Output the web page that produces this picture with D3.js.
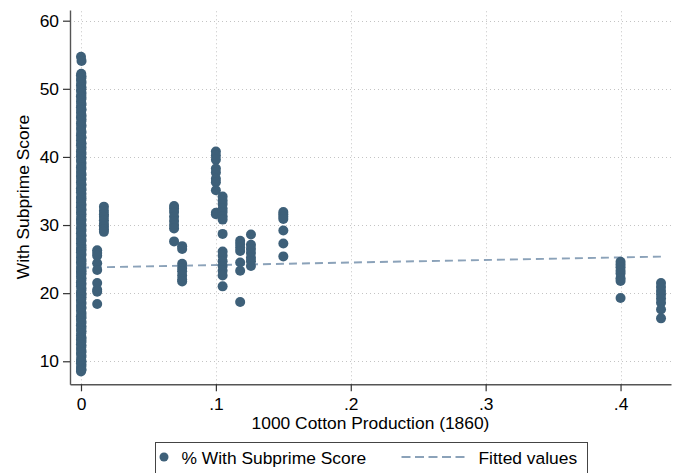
<!DOCTYPE html>
<html>
<head>
<meta charset="utf-8">
<script src="https://cdn.jsdelivr.net/npm/d3@7"></script>
<style>
  html, body { margin: 0; padding: 0; background: #fff; }
  svg { display: block; font-family: "Liberation Sans", Arial, sans-serif; }
</style>
</head>
<body>
<div id="chart"></div>
<script>
// ---- data ----
const zeroColumnY = [54.7, 54.1, 52.2, 52.0, 51.8, 51.5, 51.3, 51.0, 50.7, 50.5, 50.2, 49.9, 49.7, 49.4,
  49.0, 48.9, 48.7, 48.4, 48.1, 47.8, 47.6, 47.3, 47.0, 46.8, 46.5, 46.1, 45.9, 45.8, 45.5, 45.2, 44.9,
  44.6, 44.4, 44.1, 43.7, 43.5, 43.2, 42.9, 42.7, 42.4, 42.0, 41.9, 41.7, 41.4, 41.1, 40.8, 40.6, 40.4,
  40.1, 39.9, 39.6, 39.4, 39.1, 38.7, 38.5, 38.4, 38.1, 37.8, 37.5, 37.3, 37.1, 36.8, 36.6, 36.3, 36.0,
  35.8, 35.4, 35.3, 35.1, 34.8, 34.6, 34.2, 34.0, 33.9, 33.6, 33.3, 33.0, 32.8, 32.6, 32.3, 32.1, 31.8,
  31.6, 31.3, 30.9, 30.8, 30.6, 30.3, 30.0, 29.7, 29.5, 29.3, 29.0, 28.8, 28.5, 28.3, 28.0, 27.8, 27.6,
  27.3, 27.0, 26.7, 26.5, 26.4, 26.2, 26.0, 25.7, 25.5, 25.2, 24.9, 24.7, 24.5, 24.3, 24.0, 23.7, 23.4,
  23.2, 23.1, 22.9, 22.7, 22.4, 22.2, 21.9, 21.6, 21.4, 21.2, 21.0, 20.7, 20.4, 20.1, 19.9, 19.8, 19.6,
  19.4, 19.1, 18.9, 18.6, 18.4, 18.1, 17.9, 17.7, 17.4, 17.1, 16.8, 16.6, 16.5, 16.3, 16.1, 15.8, 15.6,
  15.3, 15.1, 14.8, 14.6, 14.4, 14.1, 13.8, 13.5, 13.3, 13.2, 13.0, 12.8, 12.5, 12.3, 12.0, 11.8, 11.5,
  11.3, 11.1, 10.8, 10.5, 10.2, 10.0, 9.9, 9.7, 9.5, 9.2, 9.0, 8.8, 8.7, 8.5];
const zeroColumnX = [0, 0.0004, 0.0002];

const clusterX = [0.012, 0.017, 0.069, 0.075, 0.100, 0.105, 0.118, 0.126, 0.150, 0.400, 0.430];
const clusterY = [
  [26.3, 25.9, 25.5, 24.4, 23.4, 21.5, 20.5, 20.2, 18.4],
  [32.7, 32.1, 31.6, 31.2, 30.7, 30.2, 29.8, 29.4, 29.0],
  [32.8, 32.4, 31.9, 31.2, 30.6, 30.0, 29.5, 27.6],
  [26.9, 26.5, 24.3, 23.7, 23.2, 22.6, 22.0, 21.7],
  [40.8, 40.2, 39.6, 38.3, 37.7, 36.8, 36.3, 35.1, 31.8, 31.6],
  [34.2, 33.6, 33.1, 32.4, 31.9, 31.3, 30.8, 28.7, 26.1, 25.5, 24.7, 24.0, 23.3, 22.6, 21.0],
  [27.7, 27.2, 26.7, 26.2, 24.5, 23.3, 18.7],
  [28.6, 27.1, 26.5, 25.9, 25.2, 24.7, 24.0],
  [31.9, 31.6, 31.2, 30.9, 29.2, 27.3, 25.4],
  [24.6, 24.2, 23.8, 23.3, 22.9, 22.2, 21.8, 19.3],
  [21.5, 20.9, 20.3, 19.8, 19.2, 18.6, 17.6, 16.3]
];

const fitX = [0, 0.43];
const fitY = [23.75, 25.36];

const xTicks = [0, 0.1, 0.2, 0.3, 0.4];
const xTickLabels = ["0", ".1", ".2", ".3", ".4"];
const yTicks = [10, 20, 30, 40, 50, 60];

const xTitle = "1000 Cotton Production (1860)";
const yTitle = "With Subprime Score";
const legendLabels = ["% With Subprime Score", "Fitted values"];

// ---- build points ----
const points = [];
zeroColumnY.forEach((v, i) => points.push({x: zeroColumnX[i % zeroColumnX.length], y: v}));
clusterX.forEach((cx, i) => clusterY[i].forEach(v => points.push({x: cx, y: v})));

// ---- layout ----
const W = 682, H = 473;
const markerColor = "#3e6079";
const fitColor = "#8ba2b9";
const fontSize = 17.4;

const svg = d3.select("#chart").append("svg").attr("width", W).attr("height", H);

const x = d3.scaleLinear().domain([-0.00815, 0.4374]).range([70, 671]);
const y = d3.scaleLinear().domain([6.62, 61.57]).range([384.3, 10]);

// grid
const grid = svg.append("g").attr("stroke", "#c4c4c4").attr("stroke-width", 1).attr("stroke-dasharray", "1,3");
grid.selectAll("line.h").data(yTicks).join("line").attr("class", "h")
  .attr("x1", x.range()[0]).attr("x2", x.range()[1])
  .attr("y1", d => Math.round(y(d)) + 0.5).attr("y2", d => Math.round(y(d)) + 0.5);
grid.selectAll("line.v").data(xTicks).join("line").attr("class", "v")
  .attr("y1", y.range()[0]).attr("y2", y.range()[1])
  .attr("x1", d => Math.round(x(d)) + 0.5).attr("x2", d => Math.round(x(d)) + 0.5);

// fitted line
const line = d3.line().x(d => x(d[0])).y(d => y(d[1]));
svg.append("path").datum(fitX.map((v, i) => [v, fitY[i]]))
  .attr("d", line).attr("fill", "none").attr("stroke", fitColor)
  .attr("stroke-width", 1.9).attr("stroke-dasharray", "8,5");

// points
svg.append("g").selectAll("circle").data(points).join("circle")
  .attr("cx", d => x(d.x)).attr("cy", d => y(d.y)).attr("r", 5)
  .attr("fill", markerColor);

// axes
const yAxis = svg.append("g").attr("transform", "translate(70,0)")
  .call(d3.axisLeft(y).tickValues(yTicks).tickFormat(d3.format("d")).tickSize(7).tickSizeOuter(0).tickPadding(4));
const xAxis = svg.append("g").attr("transform", "translate(0,384.3)")
  .call(d3.axisBottom(x).tickValues(xTicks).tickFormat((d, i) => xTickLabels[i]).tickSize(7).tickSizeOuter(0));
[yAxis, xAxis].forEach(a => {
  a.select(".domain").attr("stroke", "#555").attr("stroke-width", 1.4);
  a.selectAll(".tick line").attr("stroke", "#333").attr("stroke-width", 1.2);
  a.selectAll(".tick text").attr("fill", "#000").attr("font-size", fontSize)
    .attr("font-family", "Liberation Sans, Arial, sans-serif");
});
xAxis.selectAll(".tick text").attr("y", 25.3).attr("dy", null);

// titles
svg.append("text").attr("x", (x.range()[0] + x.range()[1]) / 2).attr("y", 429)
  .attr("text-anchor", "middle").attr("font-size", fontSize).attr("fill", "#000").text(xTitle);
svg.append("text").attr("transform", "translate(28.5,197) rotate(-90)")
  .attr("text-anchor", "middle").attr("font-size", fontSize).attr("fill", "#000").text(yTitle);

// legend
const lg = svg.append("g");
lg.append("rect").attr("x", 155.5).attr("y", 442.5).attr("width", 432).attr("height", 50)
  .attr("fill", "#fff").attr("stroke", "#444").attr("stroke-width", 1);
lg.append("circle").attr("cx", 164).attr("cy", 457).attr("r", 4.5).attr("fill", markerColor);
lg.append("text").attr("x", 181.5).attr("y", 464).attr("font-size", fontSize).attr("fill", "#000").text(legendLabels[0]);
lg.append("line").attr("x1", 401.5).attr("x2", 466).attr("y1", 457).attr("y2", 457)
  .attr("stroke", fitColor).attr("stroke-width", 1.9).attr("stroke-dasharray", "9,4.5");
lg.append("text").attr("x", 478.5).attr("y", 464).attr("font-size", fontSize).attr("fill", "#000").text(legendLabels[1]);
</script>
</body>
</html>
